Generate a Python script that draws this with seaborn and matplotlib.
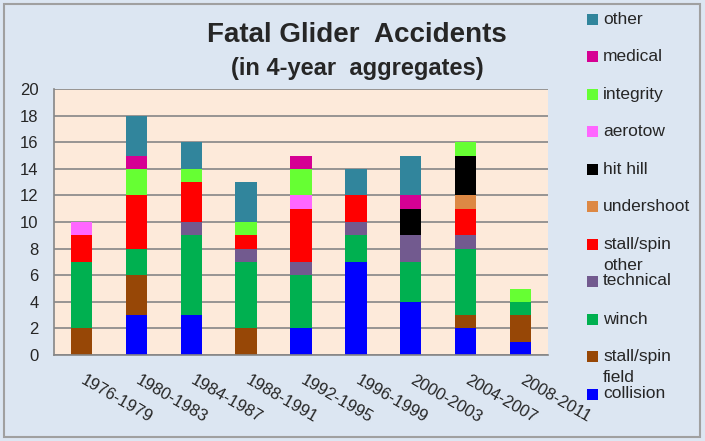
import numpy as np
import matplotlib
matplotlib.use("Agg")
import matplotlib.pyplot as plt
import seaborn as sns
from matplotlib.patches import Rectangle

# Data: 4-year periods, counts per cause (stacked bottom -> top)
periods = ["1976-1979", "1980-1983", "1984-1987", "1988-1991", "1992-1995",
           "1996-1999", "2000-2003", "2004-2007", "2008-2011"]

field_collision = [0, 3, 3, 0, 2, 7, 4, 2, 1]
stall_spin_field = [2, 3, 0, 2, 0, 0, 0, 1, 2]
winch = [5, 2, 6, 5, 4, 2, 3, 5, 1]
other_technical = [0, 0, 1, 1, 1, 1, 2, 1, 0]
stall_spin_other = [2, 4, 3, 1, 4, 2, 0, 2, 0]
undershoot = [0, 0, 0, 0, 0, 0, 0, 1, 0]
hit_hill = [0, 0, 0, 0, 0, 0, 2, 3, 0]
aerotow = [1, 0, 0, 0, 1, 0, 0, 0, 0]
integrity = [0, 2, 1, 1, 2, 0, 0, 1, 1]
medical = [0, 1, 0, 0, 1, 0, 1, 0, 0]
other = [0, 3, 2, 3, 0, 2, 3, 0, 0]

series = [
    ("field\ncollision", field_collision, "#0000FF"),
    ("stall/spin", stall_spin_field, "#974706"),
    ("winch", winch, "#00B050"),
    ("other\ntechnical", other_technical, "#725A8F"),
    ("stall/spin", stall_spin_other, "#FF0000"),
    ("undershoot", undershoot, "#DD8844"),
    ("hit hill", hit_hill, "#000000"),
    ("aerotow", aerotow, "#FF66FF"),
    ("integrity", integrity, "#66FF33"),
    ("medical", medical, "#D60093"),
    ("other", other, "#31859C"),
]

sns.set_style("white")
plt.rcParams["font.family"] = ["Liberation Sans", "DejaVu Sans"]

fig = plt.figure(figsize=(7.05, 4.41), dpi=100, facecolor="#DCE6F2")
ax = fig.add_axes([54 / 705, 1 - 355 / 441, 494 / 705, 266 / 441])
ax.set_facecolor("#FDEADA")

bottom = np.zeros(len(periods))
for label, vals, color in series:
    sns.barplot(x=periods, y=vals, bottom=bottom, color=color, width=0.39,
                linewidth=0, saturation=1, ax=ax, errorbar=None)
    bottom += np.array(vals)

grid_c = "#868686"
ax.set_ylim(0, 20)
ax.set_xlim(-0.5, len(periods) - 0.5)
ax.set_yticks(range(0, 21, 2))
ax.yaxis.grid(True, color=grid_c, linewidth=1.2)
ax.set_axisbelow(True)
for s in ["top", "right"]:
    ax.spines[s].set_visible(False)
for s in ["left", "bottom"]:
    ax.spines[s].set_color(grid_c)
    ax.spines[s].set_linewidth(1.2)

# category boundary ticks on x, labels at bar centres
ax.set_xticks(np.arange(-0.5, len(periods), 1.0))
ax.set_xticklabels([])
ax.tick_params(axis="x", length=5, width=1.2, color=grid_c, direction="out")
ax.tick_params(axis="y", length=5, width=1.2, color=grid_c, direction="out",
               labelsize=12, pad=6)
for i, p in enumerate(periods):
    ax.text(i + 0.08, -1.35, p, rotation=-30, rotation_mode="anchor",
            ha="left", va="top", fontsize=12)
ax.set_xlabel("")
ax.set_ylabel("")

fig.text(357 / 705, 1 - 35 / 441, "Fatal Glider  Accidents", ha="center",
         va="center", fontsize=20, fontweight="bold")
fig.text(357 / 705, 1 - 69 / 441, "(in 4-year  aggregates)", ha="center",
         va="center", fontsize=17, fontweight="bold")

# legend drawn like the spreadsheet's: evenly spaced squares
for k, (label, vals, color) in enumerate(reversed(series)):
    yc = 19 + k * 37.5
    fig.patches.append(Rectangle((587 / 705, 1 - (yc + 5.5) / 441), 11 / 705,
                                 11 / 441, transform=fig.transFigure,
                                 facecolor=color, edgecolor="none"))
    ty = yc - 8.5 if "\n" in label else yc
    fig.text(603 / 705, 1 - ty / 441, label, ha="left", va="center",
             fontsize=12.5, linespacing=1.0)

fig.patches.append(Rectangle((4 / 705, 4 / 441), 696 / 705, 433 / 441,
                             transform=fig.transFigure, facecolor="none",
                             edgecolor="#A0A0A0", linewidth=1.5))

fig.savefig("out.png", dpi=100, facecolor=fig.get_facecolor())
